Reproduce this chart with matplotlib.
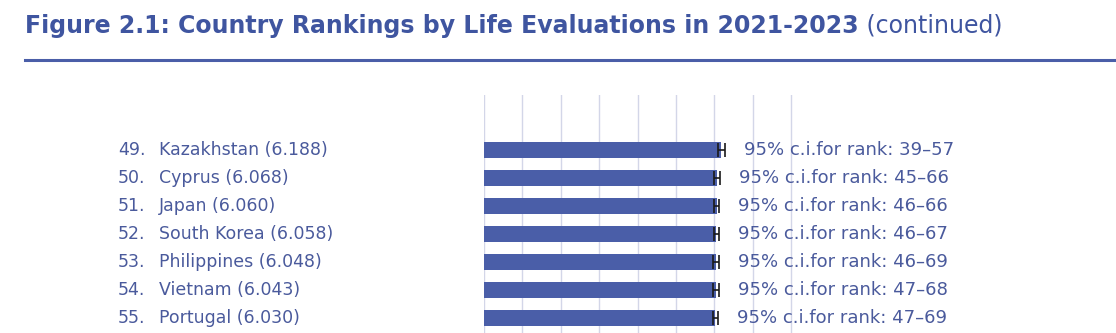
import matplotlib
matplotlib.use("Agg")
import matplotlib.pyplot as plt
from matplotlib.transforms import blended_transform_factory

# data
ranks = [49, 50, 51, 52, 53, 54, 55]
countries = ["Kazakhstan", "Cyprus", "Japan", "South Korea", "Philippines", "Vietnam", "Portugal"]
scores = [6.188, 6.068, 6.060, 6.058, 6.048, 6.043, 6.030]
ci_half = [0.10, 0.08, 0.07, 0.07, 0.08, 0.07, 0.07]
rank_lo = [39, 45, 46, 46, 46, 47, 47]
rank_hi = [57, 66, 66, 67, 69, 68, 69]

blue = "#4a5ea8"
txt = "#4a5a9c"
grid = "#d3d6e8"
W, H = 1116, 333

plt.rcParams['font.family'] = ['DejaVu Sans']
fig = plt.figure(figsize=(W / 100, H / 100), dpi=100)

# title and rule
fig.text(25 / W, 1 - 26 / H, "Figure 2.1: Country Rankings by Life Evaluations in 2021-2023",
         fontsize=17, fontweight="bold", color="#3f55a0", va="center", ha="left")
t = fig.texts[-1]
fig.canvas.draw()
bb = t.get_window_extent()
fig.text(bb.x1 / W, 1 - 26 / H, " (continued)", fontsize=17, color="#3f55a0", va="center", ha="left")
fig.add_artist(plt.Line2D([25 / W, 1], [1 - 60 / H, 1 - 60 / H], color=blue, lw=2.2,
                          transform=fig.transFigure))

ax = fig.add_axes([484 / W, 0, (793 - 484) / W, (333 - 95) / H])
n = len(ranks)
ypos = list(range(n))
ax.barh(ypos, scores, height=0.6, color=blue, zorder=2)
ax.errorbar(scores, ypos, xerr=ci_half, fmt="none", ecolor="#1a1a1a", elinewidth=1.2,
            capsize=5, capthick=1.2, zorder=3)
ax.set_xlim(0, 8 * (793 - 484) / (791 - 484))
ax.set_ylim(6.536, -1.96)
ax.set_xticks(range(9))
ax.grid(axis="x", color=grid, lw=1, zorder=0)
ax.tick_params(left=False, bottom=False, labelleft=False, labelbottom=False)
for s in ax.spines.values():
    s.set_visible(False)

tr = blended_transform_factory(fig.transFigure, ax.transData)
for i in range(n):
    ax.text(118 / W, i, f"{ranks[i]}.", transform=tr, fontsize=12.5, color=txt, va="center", ha="left")
    ax.text(159 / W, i, f"{countries[i]} ({scores[i]:.3f})", transform=tr, fontsize=12.5,
            color=txt, va="center", ha="left")
    ax.text(scores[i] + ci_half[i] + 0.5, i, f"95% c.i.for rank: {rank_lo[i]}\u2013{rank_hi[i]}",
            fontsize=13, color=txt, va="center", ha="left", clip_on=False, zorder=4)

fig.savefig("out.png", dpi=100)
